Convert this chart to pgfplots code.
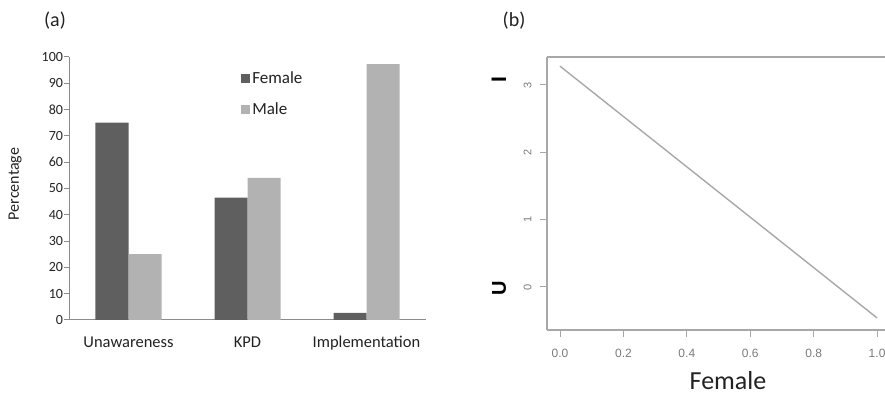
\documentclass[border=0pt]{standalone}
\usepackage{pgfplots}
\pgfplotsset{compat=1.18}
\usepackage{fontspec}
\setmainfont{Carlito}
\newfontfamily\calib{Carlito}
\newfontfamily\arialf{Liberation Sans}
\definecolor{fem}{HTML}{5F5F5F}
\definecolor{mal}{HTML}{B2B2B2}
\definecolor{axg}{HTML}{8C8C8C}
\definecolor{axr}{HTML}{A8A8A8}
\definecolor{tkr}{HTML}{7A7A7A}
\definecolor{txt}{HTML}{222222}
\begin{document}
\begin{tikzpicture}[x=1pt,y=1pt]
\path[use as bounding box] (0,0) rectangle (885,395);
% ---------- panel (a)
\begin{axis}[
  at={(69pt,75pt)}, anchor=south west,
  scale only axis, width=357pt, height=263pt,
  xmin=-0.5, xmax=2.5, ymin=0, ymax=100,
  axis x line=bottom, axis y line=left,
  axis line style={-, draw=axg, line width=1pt},
  ybar=0pt, bar width=33pt,
  xtick={0,1,2},
  xticklabels={Unawareness,KPD,Implementation},
  major x tick style={draw=none},
  extra x ticks={-0.5,0.5,1.5,2.5},
  extra x tick labels={},
  extra x tick style={tick style={draw=axg, line width=1pt}, major tick length=6pt},
  ytick={0,10,...,100},
  tick align=outside,
  major tick length=5pt,
  tick style={draw=axg, line width=1pt},
  /pgf/number format/assume math mode=true,
  yticklabel style={font=\fontsize{14}{16}\selectfont\calib, text=txt, xshift=2.5pt},
  xticklabel style={font=\fontsize{16.5}{18}\selectfont\calib, text=txt, anchor=base, yshift=-23pt},
  legend style={at={(0.482,0.952)}, anchor=north west, draw=none, fill=none,
     font=\fontsize{17}{19}\selectfont\calib, text=txt, row sep=14pt, inner sep=0pt},
  legend cell align=left,
  legend image code/.code={\fill[#1,draw=none] (0pt,-4.5pt) rectangle (9pt,4.5pt);},
]
\addplot[fill=fem, draw=none] coordinates {(0,75) (1,46.5) (2,2.7)};
\addplot[fill=mal, draw=none] coordinates {(0,25) (1,54) (2,97.3)};
\legend{Female,Male}
\end{axis}
\node[rotate=90, font=\fontsize{16}{18}\selectfont\calib, text=txt] at (15,211) {Percentage};
\node[font=\fontsize{20}{22}\selectfont\calib, text=txt, inner sep=0pt] at (55,374) {(a)};
% ---------- panel (b)
\begin{axis}[
  at={(547pt,65pt)}, anchor=south west,
  scale only axis, width=338pt, height=273pt,
  xmin=-0.041, xmax=1.025, ymin=-0.639, ymax=3.416,
  axis x line=bottom, axis y line=left,
  axis line style={-, draw=axr, line width=1.8pt},
  xtick={0,0.2,...,1.0}, ytick={0,1,2,3},
  tick align=outside, major tick length=7pt,
  tick style={draw=axr, line width=1pt},
  xticklabel style={/pgf/number format/.cd, fixed, fixed zerofill, precision=1, /tikz/.cd,
     font=\fontsize{12}{14}\selectfont\arialf, text=tkr, yshift=-9pt},
  yticklabel style={rotate=90, anchor=south, font=\fontsize{11}{13}\selectfont\arialf, text=tkr, yshift=5pt},
  /pgf/number format/assume math mode=true,
  clip=false,
]
\addplot[draw=axr, line width=1.4pt] coordinates {(0,3.28) (1,-0.46)};
\draw[axr, line width=1.8pt] (rel axis cs:0,1) -- (rel axis cs:1,1);
\end{axis}
\node[rotate=90, font=\fontsize{21}{23}\selectfont\bfseries\arialf, text=black] at (499,315) {I};
\node[rotate=90, font=\fontsize{20}{22}\selectfont\bfseries\arialf, text=black] at (499,107) {U};
\node[anchor=base, font=\fontsize{26}{28}\selectfont\calib, text=txt] at (728,5) {Female};
\node[font=\fontsize{20}{22}\selectfont\calib, text=txt, inner sep=0pt] at (514,374) {(b)};
\end{tikzpicture}
\end{document}
